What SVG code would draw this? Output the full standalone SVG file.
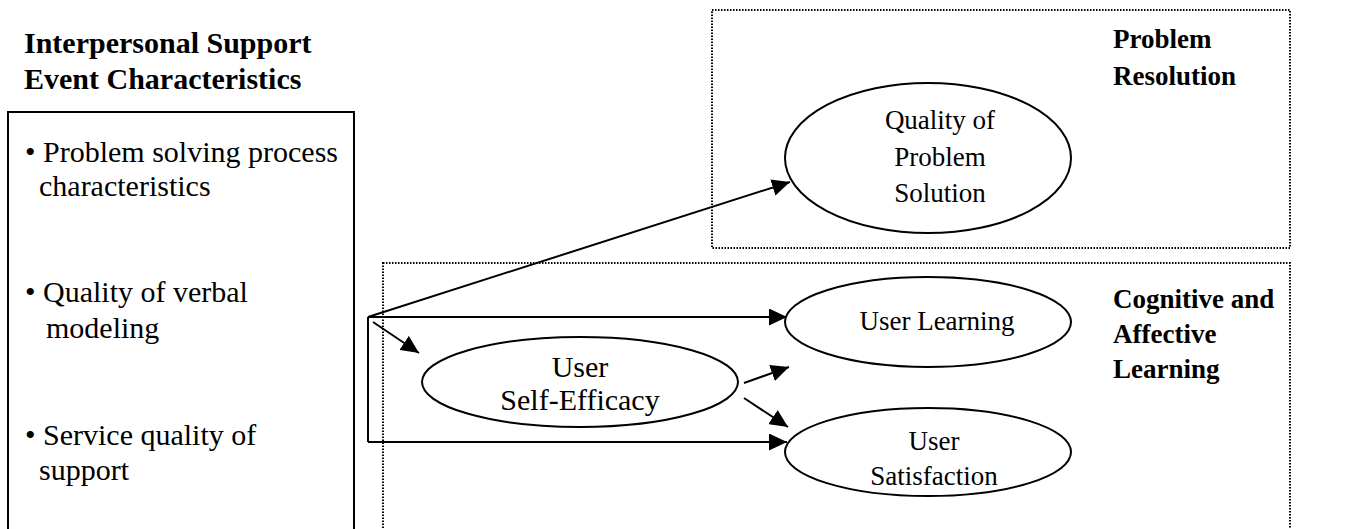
<svg xmlns="http://www.w3.org/2000/svg" width="1346" height="529" viewBox="0 0 1346 529">
<style>
.t{font-family:"Liberation Serif","Times New Roman",serif;font-size:27px;fill:#000}
.L{font-size:30px}
.b{font-weight:bold}
.c{text-anchor:middle}
.node{fill:#fff;stroke:#000;stroke-width:2}
.dot{fill:none;stroke:#000;stroke-width:2;stroke-dasharray:1.5 1.5}
.edge{fill:none;stroke:#000;stroke-width:2;marker-end:url(#ah)}
</style>
<defs>
<marker id="ah" viewBox="0 0 18 17" markerWidth="18" markerHeight="17" markerUnits="userSpaceOnUse" refX="18" refY="8.5" orient="auto">
<path d="M0,0 L18,8.5 L0,17 z" fill="#000"/>
</marker>
</defs>
<rect width="1346" height="529" fill="#fff"/>

<g id="group-problem-resolution">
<rect class="dot" x="712" y="10" width="578" height="238"/>
<text class="t b" x="1113" y="48">Problem</text>
<text class="t b" x="1113" y="85">Resolution</text>
</g>

<g id="group-cognitive-affective">
<rect class="dot" x="383" y="263" width="907" height="280"/>
<text class="t b" x="1113" y="308">Cognitive and</text>
<text class="t b" x="1113" y="343">Affective</text>
<text class="t b" x="1113" y="378">Learning</text>
</g>

<g id="node-support-event">
<text class="t L b" x="24" y="53">Interpersonal Support</text>
<text class="t L b" x="24" y="89">Event Characteristics</text>
<rect x="8" y="112" width="346" height="430" fill="none" stroke="#000" stroke-width="2"/>
<text class="t L" x="25" y="162">• Problem solving process</text>
<text class="t L" x="39" y="196">characteristics</text>
<text class="t L" x="25" y="302">• Quality of verbal</text>
<text class="t L" x="46" y="338">modeling</text>
<text class="t L" x="25" y="445">• Service quality of</text>
<text class="t L" x="39" y="480">support</text>
</g>

<g id="connectors">
<line x1="368" y1="317" x2="368" y2="442" stroke="#000" stroke-width="2"/>
<line class="edge" x1="368" y1="317" x2="790" y2="182"/>
<line class="edge" x1="368" y1="317" x2="787" y2="317"/>
<line class="edge" x1="373" y1="322" x2="419" y2="353"/>
<line class="edge" x1="368" y1="442" x2="787" y2="442"/>
<line class="edge" x1="744" y1="383" x2="789" y2="367"/>
<line class="edge" x1="744" y1="398" x2="788" y2="427"/>
</g>

<g id="node-quality-solution">
<ellipse class="node" cx="928" cy="158" rx="143" ry="75"/>
<text class="t c" x="940" y="129">Quality of</text>
<text class="t c" x="940" y="166">Problem</text>
<text class="t c" x="940" y="202">Solution</text>
</g>

<g id="node-user-learning">
<ellipse class="node" cx="928" cy="322" rx="143" ry="45"/>
<text class="t c" x="937" y="330">User Learning</text>
</g>

<g id="node-user-satisfaction">
<ellipse class="node" cx="928" cy="452" rx="143" ry="44"/>
<text class="t c" x="934" y="450">User</text>
<text class="t c" x="934" y="485">Satisfaction</text>
</g>

<g id="node-self-efficacy">
<ellipse class="node" cx="580" cy="382" rx="158" ry="45"/>
<text class="t L c" x="580" y="377">User</text>
<text class="t L c" x="580" y="410">Self-Efficacy</text>
</g>
</svg>
